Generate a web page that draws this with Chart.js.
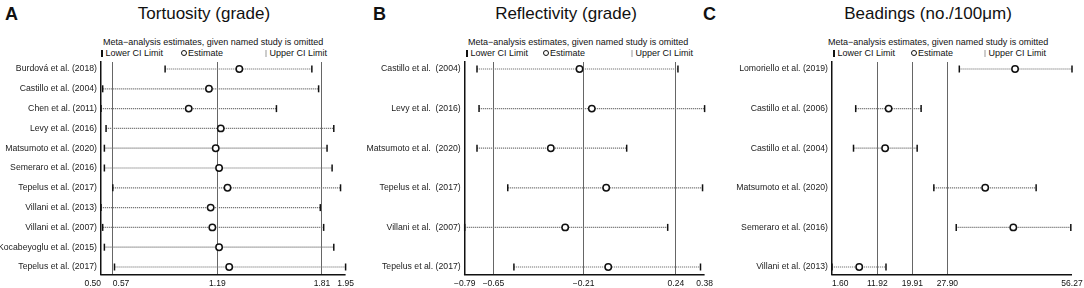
<!DOCTYPE html>
<html>
<head>
<meta charset="utf-8">
<script src="https://cdn.jsdelivr.net/npm/chart.js@4"></script>
<style>
body{margin:0;background:#fff;width:1084px;height:288px;position:relative;overflow:hidden;font-family:"Liberation Sans",Arial,sans-serif;color:#111}
.abs{position:absolute;white-space:nowrap;line-height:1}
.letter{font-weight:bold;font-size:18px}
.title{font-size:17px;transform:translateX(-50%)}
.small{font-size:9px}
canvas{position:absolute;top:50px}
.bar{display:inline-block;width:1.5px;height:7px;background:#111;vertical-align:-1px;margin-right:3px}
.bar.light{background:#ccc}
.circ{display:inline-block;width:4px;height:4px;border:1.5px solid #111;border-radius:50%;vertical-align:0;margin-right:1px}
</style>
</head>
<body>
<div class="abs letter" style="left:5px;top:5px">A</div>
<div class="abs title" style="left:204px;top:5px">Tortuosity (grade)</div>
<div class="abs small" style="left:103px;top:38px">Meta−analysis estimates, given named study is omitted</div>
<div class="abs small" style="left:101px;top:49px"><span class="bar"></span>Lower CI Limit</div>
<div class="abs small" style="left:181px;top:49px"><span class="circ"></span>Estimate</div>
<div class="abs small" style="left:265px;top:49px"><span class="bar light"></span>Upper CI Limit</div>

<div class="abs letter" style="left:373px;top:5px">B</div>
<div class="abs title" style="left:566px;top:5px">Reflectivity (grade)</div>
<div class="abs small" style="left:468px;top:38px">Meta−analysis estimates, given named study is omitted</div>
<div class="abs small" style="left:466px;top:49px"><span class="bar"></span>Lower CI Limit</div>
<div class="abs small" style="left:543px;top:49px"><span class="circ"></span>Estimate</div>
<div class="abs small" style="left:631px;top:49px"><span class="bar light"></span>Upper CI Limit</div>

<div class="abs letter" style="left:703px;top:5px">C</div>
<div class="abs title" style="left:928px;top:5px">Beadings (no./100μm)</div>
<div class="abs small" style="left:828px;top:38px">Meta−analysis estimates, given named study is omitted</div>
<div class="abs small" style="left:833px;top:49px"><span class="bar"></span>Lower CI Limit</div>
<div class="abs small" style="left:911px;top:49px"><span class="circ"></span>Estimate</div>
<div class="abs small" style="left:984px;top:49px"><span class="bar light"></span>Upper CI Limit</div>

<canvas id="cA" width="360" height="238" style="left:0"></canvas>
<canvas id="cB" width="360" height="238" style="left:360px"></canvas>
<canvas id="cC" width="364" height="238" style="left:720px"></canvas>

<script>
// ---- 数据 ----
const labelsA = ['Burdová et al. (2018)','Castillo et al. (2004)','Chen et al. (2011)','Levy et al. (2016)','Matsumoto et al. (2020)','Semeraro et al. (2016)','Tepelus et al. (2017)','Villani et al. (2013)','Villani et al. (2007)','Kocabeyoglu et al. (2015)','Tepelus et al. (2017)'];
const lowerA = [0.88,0.51,0.50,0.53,0.52,0.52,0.57,0.50,0.51,0.52,0.58];
const estA   = [1.32,1.14,1.02,1.21,1.18,1.20,1.25,1.15,1.16,1.20,1.26];
const upperA = [1.75,1.79,1.54,1.88,1.84,1.87,1.92,1.80,1.82,1.88,1.95];
const ticksA = ['0.50','0.57','1.19','1.81','1.95'];

const labelsB = ['Castillo et al.  (2004)','Levy et al.  (2016)','Matsumoto et al.  (2020)','Tepelus et al.  (2017)','Villani et al.  (2007)','Tepelus et al. (2017)'];
const lowerB = [-0.73,-0.72,-0.73,-0.58,-0.79,-0.55];
const estB   = [-0.23,-0.17,-0.37,-0.10,-0.30,-0.09];
const upperB = [0.25,0.38,0.00,0.37,0.20,0.36];
const ticksB = ['−0.79','−0.65','−0.21','0.24','0.38'];

const labelsC = ['Lomoriello et al. (2019)','Castillo et al. (2006)','Castillo et al. (2004)','Matsumoto et al. (2020)','Semeraro et al. (2016)','Villani et al. (2013)'];
const lowerC = [30.6,7.0,6.5,24.8,29.9,1.60];
const estC   = [43.3,14.5,13.7,36.5,42.9,7.8];
const upperC = [56.27,21.9,21.0,48.1,56.0,13.9];
const ticksC = ['1.60','11.92','19.91','27.90','56.27'];

Chart.defaults.font.family = '"Liberation Sans", Arial, sans-serif';
Chart.defaults.font.size = 8.7;
Chart.defaults.color = '#222';

const num = s => parseFloat(s.replace('−', '-'));

// CI 虚线 + 端点竖线
const ciBars = {
  id: 'ciBars',
  beforeDatasetsDraw(chart, args, opts) {
    const {ctx, scales: {x, y}} = chart;
    ctx.save();
    opts.lower.forEach((lo, i) => {
      const py = y.getPixelForValue(i);
      const xl = x.getPixelForValue(lo), xu = x.getPixelForValue(opts.upper[i]);
      ctx.setLineDash([1.2, 0.8]);
      ctx.strokeStyle = '#777';
      ctx.lineWidth = 1.2;
      ctx.beginPath(); ctx.moveTo(xl, py); ctx.lineTo(xu, py); ctx.stroke();
      ctx.setLineDash([]);
      ctx.strokeStyle = '#111';
      ctx.lineWidth = 1.5;
      [xl, xu].forEach(px => {
        ctx.beginPath(); ctx.moveTo(px, py - 3.5); ctx.lineTo(px, py + 3.5); ctx.stroke();
      });
    });
    ctx.restore();
  }
};

// 底部轴线 + x 轴刻度文字
const axisText = {
  id: 'axisText',
  afterDraw(chart, args, opts) {
    const {ctx, chartArea: a, scales: {x}} = chart;
    ctx.save();
    ctx.strokeStyle = '#111';
    ctx.lineWidth = 1.5;
    ctx.beginPath(); ctx.moveTo(a.left - 0.75, a.bottom + 0.75); ctx.lineTo(a.right, a.bottom + 0.75); ctx.stroke();
    ctx.font = '8.5px "Liberation Sans", Arial, sans-serif';
    ctx.fillStyle = '#111';
    ctx.textBaseline = 'alphabetic';
    opts.ticks.forEach((t, i) => {
      ctx.textAlign = opts.align[i] || 'center';
      ctx.fillText(t, x.getPixelForValue(num(t)), a.bottom + 12);
    });
    ctx.restore();
  }
};

function panel(id, labels, lower, est, upper, ticks, align, yPad, axisW, padRight) {
  const tv = ticks.map(num);
  const n = labels.length;
  new Chart(document.getElementById(id), {
    type: 'scatter',
    data: {
      datasets: [{
        data: est.map((v, i) => ({x: v, y: i})),
        pointStyle: 'circle', pointRadius: 3.2, pointBorderWidth: 1.5,
        pointBorderColor: '#111', pointBackgroundColor: '#fff'
      }]
    },
    options: {
      responsive: false, animation: false, devicePixelRatio: 1,
      layout: {padding: {left: 0, right: padRight, top: 12, bottom: 0}},
      plugins: {
        legend: {display: false}, tooltip: {enabled: false},
        ciBars: {lower, upper},
        axisText: {ticks, align}
      },
      scales: {
        x: {
          type: 'linear', min: tv[0], max: tv[tv.length - 1],
          afterBuildTicks: s => { s.ticks = tv.map(v => ({value: v})); },
          afterFit: s => { s.height = 14; },
          ticks: {display: false},
          grid: {
            drawTicks: false, lineWidth: 1,
            color: c => (c.index === 0 || c.index === tv.length - 1) ? 'rgba(0,0,0,0)' : '#666'
          },
          border: {display: false}
        },
        y: {
          type: 'linear', reverse: true, min: -yPad, max: n - 1 + yPad,
          afterBuildTicks: s => { s.ticks = labels.map((l, i) => ({value: i})); },
          afterFit: s => { s.width = axisW; },
          ticks: {autoSkip: false, padding: 4, color: '#222', callback: v => labels[v]},
          grid: {display: false, drawTicks: false},
          border: {color: '#111', width: 1.5}
        }
      }
    },
    plugins: [ciBars, axisText]
  });
}

panel('cA', labelsA, lowerA, estA, upperA, ticksA, ['right', 'left'], 0.354, 101, 14.4);
panel('cB', labelsB, lowerB, estB, upperB, ticksB, [], 0.177, 104.7, 15.4);
panel('cC', labelsC, lowerC, estC, upperC, ticksC, ['left'], 0.177, 112, 12);
</script>
</body>
</html>
